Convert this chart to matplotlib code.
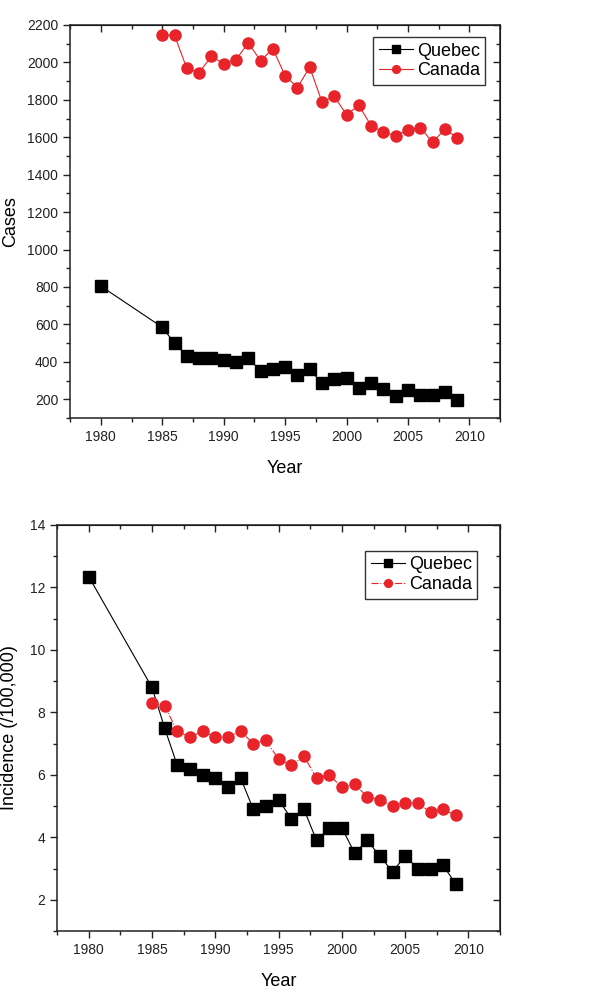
import matplotlib.pyplot as plt
from matplotlib.ticker import MultipleLocator, NullFormatter

plt.rcParams['font.family'] = ['Liberation Sans', 'DejaVu Sans']

# data
years_q = [1980, 1985, 1986, 1987, 1988, 1989, 1990, 1991, 1992, 1993, 1994, 1995, 1996,
           1997, 1998, 1999, 2000, 2001, 2002, 2003, 2004, 2005, 2006, 2007, 2008, 2009]
years_c = years_q[1:]

cases_quebec = [805, 585, 500, 430, 420, 418, 410, 400, 420, 352, 360, 375, 332,
                360, 285, 310, 315, 258, 285, 255, 218, 252, 225, 225, 238, 195]
cases_canada = [2145, 2145, 1968, 1946, 2032, 1993, 2014, 2105, 2009, 2073, 1929, 1866,
                1975, 1789, 1818, 1721, 1770, 1662, 1627, 1609, 1639, 1652, 1573, 1643, 1598]

inc_quebec = [12.35, 8.8, 7.5, 6.3, 6.2, 6.0, 5.9, 5.6, 5.9, 4.9, 5.0, 5.2, 4.6,
              4.9, 3.9, 4.3, 4.3, 3.5, 3.9, 3.4, 2.9, 3.4, 3.0, 3.0, 3.1, 2.5]
inc_canada = [8.3, 8.2, 7.4, 7.2, 7.4, 7.2, 7.2, 7.4, 7.0, 7.1, 6.5, 6.3, 6.6,
              5.9, 6.0, 5.6, 5.7, 5.3, 5.2, 5.0, 5.1, 5.1, 4.8, 4.9, 4.7]

red = '#e8232a'
dark = '#222222'

fig = plt.figure(figsize=(5.94, 10), dpi=100)
ax1 = fig.add_axes([0.118, 0.582, 0.724, 0.393])
ax2 = fig.add_axes([0.096, 0.069, 0.746, 0.406])


def style_axis(ax, ystep):
    ax.set_xlim(1977.5, 2012.5)
    ax.xaxis.set_major_locator(MultipleLocator(5))
    ax.xaxis.set_minor_locator(MultipleLocator(2.5))
    ax.yaxis.set_major_locator(MultipleLocator(ystep))
    ax.yaxis.set_minor_locator(MultipleLocator(ystep / 2))
    ax.tick_params(which='both', direction='out', labelsize=10, colors=dark, width=1)
    ax.tick_params(which='major', length=5)
    ax.tick_params(which='minor', length=3)
    for s in ax.spines.values():
        s.set_linewidth(1.1)
        s.set_color(dark)
    # top and right ticks point inward (Origin style)
    top = ax.secondary_xaxis('top')
    top.xaxis.set_major_locator(MultipleLocator(5))
    top.xaxis.set_minor_locator(MultipleLocator(2.5))
    top.xaxis.set_major_formatter(NullFormatter())
    top.tick_params(which='both', direction='in', colors=dark, width=1)
    top.tick_params(which='major', length=5)
    top.tick_params(which='minor', length=3)
    right = ax.secondary_yaxis('right')
    right.yaxis.set_major_locator(MultipleLocator(ystep))
    right.yaxis.set_minor_locator(MultipleLocator(ystep / 2))
    right.yaxis.set_major_formatter(NullFormatter())
    right.tick_params(which='both', direction='in', colors=dark, width=1)
    right.tick_params(which='major', length=5)
    right.tick_params(which='minor', length=3)
    ax.set_xlabel('Year', fontsize=13, labelpad=12)


def add_legend(ax, anchor):
    leg = ax.legend(loc='upper right', bbox_to_anchor=anchor, fontsize=13,
                    fancybox=False, edgecolor='black', markerscale=0.7,
                    handlelength=1.9, handletextpad=0.2, borderpad=0.3,
                    labelspacing=0.15, borderaxespad=0)
    leg.get_frame().set_linewidth(1)


# top panel: cases
ax1.plot(years_q, cases_quebec, color='black', lw=0.8, marker='s', ms=8, label='Quebec')
ax1.plot(years_c, cases_canada, color=red, lw=0.8, marker='o', ms=8, label='Canada')
ax1.set_ylim(100, 2200)
style_axis(ax1, 200)
ax1.set_ylabel('Cases', fontsize=13)
ax1.yaxis.set_label_coords(-0.118, 0.5)
add_legend(ax1, (0.965, 0.969))

# bottom panel: incidence
ax2.plot(years_q, inc_quebec, color='black', lw=0.8, marker='s', ms=8.5, label='Quebec')
ax2.plot(years_c, inc_canada, color=red, lw=0.8, ls='-.', marker='o', ms=8, label='Canada')
ax2.set_ylim(1, 14)
style_axis(ax2, 2)
ax2.set_ylabel('Incidence (/100,000)', fontsize=13)
ax2.yaxis.set_label_coords(-0.088, 0.5)
add_legend(ax2, (0.948, 0.936))

fig.savefig('out.png', dpi=100)
